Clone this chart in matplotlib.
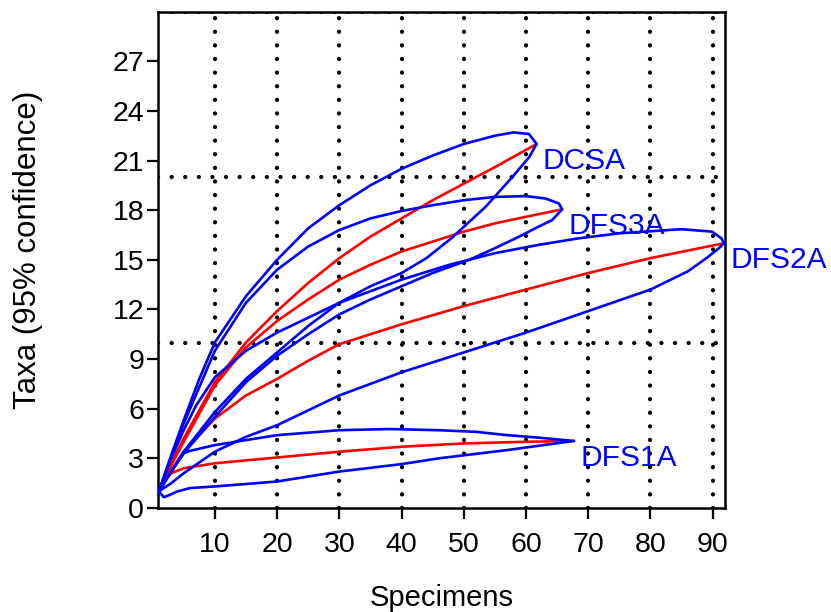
import matplotlib
matplotlib.use("Agg")
import matplotlib.pyplot as plt

plt.rcParams["font.family"] = ["Liberation Sans", "DejaVu Sans"]

# rarefaction means (red)
dcsa_x = [1, 3, 5, 10, 15, 20, 25, 30, 35, 40, 45, 50, 55, 61.7]
dcsa_y = [1, 2.7, 4.2, 7.6, 10.0, 11.9, 13.6, 15.1, 16.4, 17.5, 18.6, 19.6, 20.6, 22.0]
dfs3a_x = [1, 3, 5, 10, 15, 20, 25, 30, 35, 40, 45, 50, 55, 60, 65.8]
dfs3a_y = [1, 2.6, 4.0, 7.4, 9.7, 11.3, 12.6, 13.8, 14.7, 15.5, 16.1, 16.7, 17.2, 17.6, 18.05]
dfs2a_x = [1, 3, 5, 10, 15, 20, 25, 30, 40, 50, 60, 70, 80, 91.8]
dfs2a_y = [1, 2.3, 3.4, 5.4, 6.8, 7.8, 8.9, 9.9, 11.1, 12.2, 13.2, 14.2, 15.1, 16.0]
dfs1a_x = [1, 2, 3, 5, 10, 20, 30, 40, 50, 60, 67.7]
dfs1a_y = [1, 1.8, 2.1, 2.4, 2.7, 3.05, 3.4, 3.7, 3.9, 4.0, 4.05]

# 95% confidence bounds (blue)
dcsa_up_x = [1, 3, 5, 7.5, 10, 15, 20, 25, 30, 35, 40, 45, 50, 55, 58, 60.5, 61.7]
dcsa_up_y = [1, 3.2, 5.3, 7.8, 10.0, 12.8, 15.0, 16.9, 18.3, 19.5, 20.5, 21.3, 22.0, 22.5, 22.7, 22.6, 22.0]
dcsa_lo_x = [1, 3, 5, 10, 15, 20, 25, 30, 35, 40, 44, 48, 53.5, 57.8, 60.5, 61.7]
dcsa_lo_y = [1, 2.2, 3.4, 5.8, 7.8, 9.4, 11.0, 12.4, 13.4, 14.2, 15.1, 16.3, 18.2, 20.0, 21.2, 22.0]

dfs3a_up_x = [1, 3, 5, 10, 15, 20, 25, 30, 35, 40, 45, 50, 55, 60, 63.2, 65.3, 65.8]
dfs3a_up_y = [1, 3.1, 5.1, 9.5, 12.4, 14.4, 15.8, 16.8, 17.5, 17.95, 18.3, 18.6, 18.8, 18.85, 18.7, 18.4, 18.05]
dfs3a_lo_x = [1, 3, 5, 10, 15, 20, 25, 30, 35, 40, 45, 50.9, 55, 58.9, 62, 64.2, 65.8]
dfs3a_lo_y = [1, 2.2, 3.3, 5.5, 7.6, 9.2, 10.5, 11.7, 12.6, 13.4, 14.2, 15.0, 15.7, 16.4, 17.0, 17.4, 18.05]

dfs2a_up_x = [1, 3, 5, 7, 10, 15, 20, 25, 30, 40, 47.7, 55, 62, 68.5, 75, 85, 89.9, 91.4, 91.8]
dfs2a_up_y = [1, 3.0, 4.7, 6.2, 7.9, 9.5, 10.6, 11.5, 12.4, 13.8, 14.7, 15.4, 15.9, 16.3, 16.6, 16.85, 16.7, 16.3, 16.0]
dfs2a_lo_x = [1, 3, 5, 10, 15, 20, 30, 40, 50, 60, 70, 80, 86, 89, 91, 91.8]
dfs2a_lo_y = [1, 1.5, 2.1, 3.4, 4.3, 5.0, 6.8, 8.2, 9.4, 10.6, 11.9, 13.2, 14.3, 15.1, 15.7, 16.0]

dfs1a_up_x = [1, 3, 5, 6, 10, 20, 30, 38, 46, 52, 57, 62, 67.7]
dfs1a_up_y = [1, 2.2, 3.3, 3.45, 3.8, 4.4, 4.7, 4.77, 4.7, 4.6, 4.4, 4.25, 4.05]
dfs1a_lo_x = [1, 1.8, 2.5, 4, 6, 10, 20, 30, 40, 46, 57, 67.7]
dfs1a_lo_y = [1, 0.65, 0.75, 1.0, 1.2, 1.3, 1.6, 2.2, 2.65, 3.0, 3.5, 4.05]

names = ["DCSA", "DFS3A", "DFS2A", "DFS1A"]
means = [(dcsa_x, dcsa_y), (dfs3a_x, dfs3a_y), (dfs2a_x, dfs2a_y), (dfs1a_x, dfs1a_y)]
uppers = [(dcsa_up_x, dcsa_up_y), (dfs3a_up_x, dfs3a_up_y),
          (dfs2a_up_x, dfs2a_up_y), (dfs1a_up_x, dfs1a_up_y)]
lowers = [(dcsa_lo_x, dcsa_lo_y), (dfs3a_lo_x, dfs3a_lo_y),
          (dfs2a_lo_x, dfs2a_lo_y), (dfs1a_lo_x, dfs1a_lo_y)]

x_ticks = [10, 20, 30, 40, 50, 60, 70, 80, 90]
y_ticks = [0, 3, 6, 9, 12, 15, 18, 21, 24, 27]
h_grid = [10, 20, 30]

fig = plt.figure(figsize=(8.31, 6.12), dpi=100)
ax = fig.add_axes([0.190, 0.170, 0.6826, 0.811])

dots = dict(color="black", lw=3.1, linestyle=(0, (0.01, 3.15)),
            dash_capstyle="round", zorder=1)
for gx in x_ticks:
    ax.axvline(gx, **dots)
for gy in h_grid:
    ax.axhline(gy, **dots)

for (ux, uy), (lx, ly) in zip(uppers, lowers):
    ax.plot(ux + lx[::-1], uy + ly[::-1], color="#0000ff", lw=1.9, zorder=3)
for (mx, my) in means:
    ax.plot(mx, my, color="#ff0000", lw=1.9, zorder=2)

for name, (mx, my) in zip(names, means):
    ax.annotate(name, (mx[-1], my[-1]), xytext=(4.5, -12), textcoords="offset points",
                ha="left", va="center", color="#0000ff", fontsize=21.5,
                annotation_clip=False)

ax.set_xlim(0.85, 92.0)
ax.set_ylim(0, 30)
ax.set_xticks(x_ticks)
ax.set_yticks(y_ticks)
ax.tick_params(axis="both", direction="out", length=8, width=1.6, labelsize=20.5)
ax.tick_params(axis="x", pad=9)
ax.tick_params(axis="y", pad=2)
for s in ax.spines.values():
    s.set_linewidth(1.8)

ax.set_xlabel("Specimens", fontsize=21, labelpad=19)
ax.set_ylabel("Taxa (95% confidence)", fontsize=22.5)
ax.yaxis.set_label_coords(-0.203, 0.52)

fig.savefig("out.png", dpi=100)
